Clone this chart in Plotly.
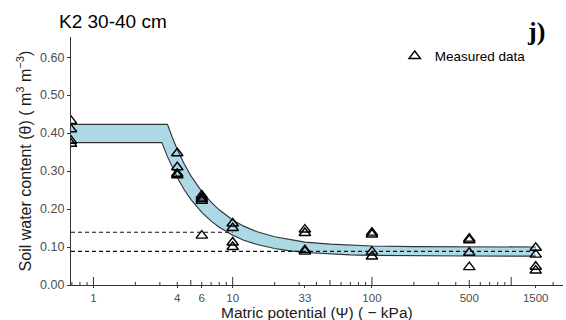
import math
import plotly.graph_objects as go

# ---------------- data ----------------
PSI_LEFT = 0.69  # saturation points drawn at the left edge of the axis

# measured data (matric potential, -kPa ; theta, m3 m-3)
meas_psi = [PSI_LEFT, PSI_LEFT, PSI_LEFT, PSI_LEFT,
            4, 4, 4, 4,
            6, 6, 6, 6, 6,
            10, 10, 10, 10,
            33, 33, 33, 33,
            100, 100, 100, 100,
            500, 500, 500, 500,
            1500, 1500, 1500, 1500]
meas_theta = [0.432, 0.410, 0.380, 0.372,
              0.347, 0.310, 0.293, 0.289,
              0.236, 0.230, 0.226, 0.222, 0.130,
              0.162, 0.150, 0.112, 0.100,
              0.146, 0.137, 0.092, 0.088,
              0.138, 0.133, 0.088, 0.075,
              0.122, 0.118, 0.085, 0.047,
              0.098, 0.080, 0.048, 0.038]

# fitted band (upper and lower retention curves)
band_psi = [PSI_LEFT, 3.1, 3.4, 3.7, 4, 4.5, 5, 6, 7, 8, 10, 12, 15, 20, 25, 33,
            50, 70, 100, 200, 500, 1000, 1500]
band_upper = [0.423, 0.423, 0.423, 0.387, 0.357, 0.318, 0.288, 0.246, 0.218, 0.198,
              0.171, 0.155, 0.140, 0.127, 0.120, 0.113, 0.1075, 0.1047, 0.1028,
              0.1011, 0.1003, 0.1001, 0.1000]
band_lower = [0.375, 0.375, 0.338, 0.307, 0.283, 0.250, 0.2255, 0.191, 0.168, 0.152,
              0.131, 0.118, 0.1064, 0.096, 0.0905, 0.0857, 0.0813, 0.0793, 0.078,
              0.0768, 0.0762, 0.0761, 0.0760]

# reference dashed lines
fc_psi = [PSI_LEFT, 10]
fc_theta = [0.139, 0.139]
pwp_psi = [PSI_LEFT, 1500]
pwp_theta = [0.0886, 0.0886]

x_tickvals = [1, 4, 6, 10, 33, 100, 500, 1500]
x_ticktext = ["1", "4", "6", "10", "33", "100", "500", "1500"]
y_tickvals = [0.0, 0.1, 0.2, 0.3, 0.4, 0.5, 0.6]

X_RANGE = [PSI_LEFT, 2355]
Y_RANGE = [0, 0.653]

# ---------------- figure ----------------
FONT = "Liberation Sans, Arial, Helvetica, sans-serif"
LINE_COL = "#333333"
FILL_COL = "#ADD8E6"

fig = go.Figure()

fig.add_trace(go.Scatter(x=band_psi, y=band_lower, mode="lines",
                         line=dict(color=LINE_COL, width=1.1),
                         showlegend=False, hoverinfo="skip"))
fig.add_trace(go.Scatter(x=band_psi, y=band_upper, mode="lines",
                         line=dict(color=LINE_COL, width=1.1),
                         fill="tonexty", fillcolor=FILL_COL,
                         showlegend=False, hoverinfo="skip"))

for xs, ys in [(fc_psi, fc_theta), (pwp_psi, pwp_theta)]:
    fig.add_trace(go.Scatter(x=xs, y=ys, mode="lines",
                             line=dict(color="#111111", width=1.1, dash="4px,3px"),
                             showlegend=False, hoverinfo="skip"))

fig.add_trace(go.Scatter(x=meas_psi, y=meas_theta, mode="markers",
                         name="Measured data", cliponaxis=True,
                         marker=dict(symbol="triangle-up-open", size=10,
                                     color="#000000", line=dict(width=1.4))))

# log ticks (annotation_logticks style), drawn inside the panel
shapes = []
for decade in [0.1, 1, 10, 100, 1000]:
    for m in range(1, 10):
        v = m * decade
        if v < X_RANGE[0] or v > X_RANGE[1]:
            continue
        ln = 8 if m == 1 else (5 if m == 5 else 3)
        shapes.append(dict(type="line", xref="x", yref="y", x0=v, x1=v,
                           ysizemode="pixel", yanchor=0, y0=0, y1=ln,
                           line=dict(color=LINE_COL, width=1)))

fig.update_layout(
    width=566, height=320,
    margin=dict(l=71, r=3, t=37, b=35),
    paper_bgcolor="white", plot_bgcolor="white",
    font=dict(family=FONT, color="#4D4D4D", size=12),
    shapes=shapes,
    showlegend=True,
    legend=dict(x=0.658, y=0.985, xanchor="left", yanchor="top",
                bgcolor="rgba(0,0,0,0)", itemwidth=30,
                font=dict(family=FONT, size=13.5, color="#000000")),
    xaxis=dict(type="log", range=[math.log10(X_RANGE[0]), math.log10(X_RANGE[1])],
               tickvals=x_tickvals, ticktext=x_ticktext,
               ticks="outside", ticklen=2, tickcolor=LINE_COL, tickwidth=1,
               showline=True, linecolor=LINE_COL, linewidth=1.2,
               showgrid=False, zeroline=False,
               tickfont=dict(size=11.5, color="#4D4D4D")),
    yaxis=dict(range=Y_RANGE, tickvals=y_tickvals, tickformat=".2f",
               ticks="outside", ticklen=3, tickcolor=LINE_COL, tickwidth=1,
               showline=True, linecolor=LINE_COL, linewidth=1.2,
               showgrid=False, zeroline=False,
               tickfont=dict(size=12.5, color="#4D4D4D"),
               title=dict(text="Soil water content (\u03b8) ( m<sup>3</sup> m<sup>\u22123</sup>)",
                          font=dict(size=16, color="#1A1A1A"), standoff=4)),
    annotations=[
        dict(text="Matric potential (\u03a8) ( \u2212 kPa)", xref="paper", yref="paper",
             x=0.5, y=0, xanchor="center", yanchor="bottom", yshift=-37, borderpad=0,
             showarrow=False, font=dict(family=FONT, size=15.5, color="#1A1A1A")),
        dict(text="K2 30-40 cm", xref="paper", yref="paper",
             x=(57 - 71) / 492, y=1.0, xanchor="left", yanchor="bottom", yshift=3,
             showarrow=False, font=dict(family=FONT, size=19, color="#000000")),
        dict(text="<b>j)</b>", xref="paper", yref="paper",
             x=1.0, y=1.0, xanchor="right", yanchor="middle", xshift=-16, yshift=6,
             showarrow=False,
             font=dict(family="Liberation Serif, Times New Roman, serif", size=26,
                       color="#000000")),
    ],
)

fig.write_html("out.html")
